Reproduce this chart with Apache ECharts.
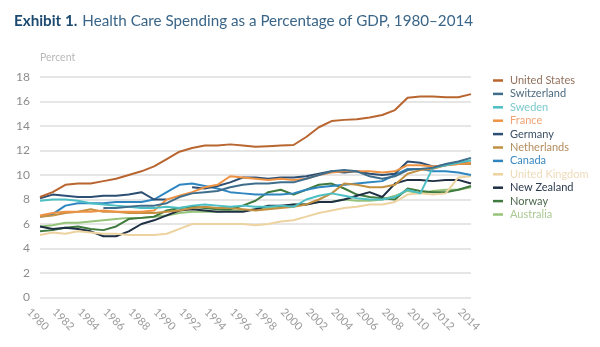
<!DOCTYPE html>
<html>
<head>
<meta charset="utf-8">
<script src="https://cdn.jsdelivr.net/npm/echarts@6/dist/echarts.min.js"></script>
<style>
  html, body { margin: 0; padding: 0; background: #fff; }
  #chart { width: 600px; height: 347px; }
</style>
</head>
<body>
<div id="chart"></div>
<script>
// Health care spending as a percentage of GDP, 1980–2014
const years = ['1980','1981','1982','1983','1984','1985','1986','1987','1988','1989',
               '1990','1991','1992','1993','1994','1995','1996','1997','1998','1999',
               '2000','2001','2002','2003','2004','2005','2006','2007','2008','2009',
               '2010','2011','2012','2013','2014'];

const yTicks = [0, 2, 4, 6, 8, 10, 12, 14, 16, 18];

const countries = ['United States','Switzerland','Sweden','France','Germany','Netherlands',
                   'Canada','United Kingdom','New Zealand','Norway','Australia'];

const unitedStates = [8.2,8.6,9.2,9.3,9.3,9.5,9.7,10.0,10.3,10.7,
                      11.3,11.9,12.2,12.4,12.4,12.5,12.4,12.3,12.35,12.4,
                      12.45,13.1,13.9,14.4,14.5,14.55,14.7,14.9,15.3,16.3,
                      16.4,16.4,16.35,16.35,16.6];
const switzerland  = [null,null,null,null,null,7.3,7.3,7.4,7.5,7.5,
                      7.7,8.2,8.5,8.6,8.7,9.0,9.2,9.3,9.3,9.4,
                      9.4,9.7,10.0,10.3,10.4,10.3,9.9,9.7,9.9,10.4,
                      10.5,10.6,10.9,11.1,11.4];
const sweden       = [7.9,8.0,8.0,7.9,7.7,7.6,7.5,7.4,7.3,7.3,
                      7.4,7.3,7.5,7.6,7.5,7.4,7.5,7.4,7.4,7.5,
                      7.4,8.0,8.3,8.5,8.3,8.1,8.0,8.0,8.2,8.8,
                      8.5,10.6,10.8,11.0,11.2];
const france       = [6.7,6.9,7.0,7.0,7.0,7.1,7.0,7.0,7.0,7.1,
                      8.0,8.3,8.6,9.0,9.2,9.9,9.8,9.7,9.6,9.7,
                      9.6,9.7,10.0,10.2,10.3,10.3,10.3,10.2,10.3,10.8,
                      10.8,10.7,10.8,10.9,11.0];
const germany      = [8.1,8.4,8.3,8.2,8.2,8.3,8.3,8.4,8.6,8.0,
                      8.0,null,9.0,8.9,9.1,9.4,9.8,9.8,9.7,9.8,
                      9.8,9.9,10.1,10.3,10.2,10.3,10.1,10.0,10.1,11.1,
                      11.0,10.7,10.8,11.0,11.0];
const netherlands  = [6.6,6.7,6.9,7.0,7.2,7.0,7.0,6.9,6.9,6.9,
                      7.0,7.1,7.3,7.4,7.3,7.3,7.2,7.1,7.2,7.3,
                      7.4,7.6,8.0,8.5,9.3,9.2,9.0,9.0,9.2,10.1,
                      10.4,10.5,10.8,10.9,10.9];
const canada       = [6.6,6.8,7.5,7.7,7.7,7.7,7.8,7.8,7.8,8.0,
                      8.6,9.2,9.3,9.1,8.9,8.6,8.5,8.4,8.4,8.4,
                      8.5,8.8,9.0,9.1,9.2,9.3,9.4,9.5,10.0,10.5,
                      10.5,10.3,10.3,10.2,10.0];
const unitedKingdom= [5.1,5.3,5.2,5.4,5.3,5.2,5.2,5.1,5.1,5.1,
                      5.2,5.6,6.0,6.0,6.0,6.0,6.0,5.9,6.0,6.2,
                      6.3,6.6,6.9,7.1,7.3,7.4,7.6,7.6,7.8,8.4,
                      8.5,8.4,8.5,9.8,9.9];
const newZealand   = [5.8,5.6,5.7,5.6,5.4,5.0,5.0,5.4,6.0,6.3,
                      6.7,7.1,7.2,7.1,7.0,7.0,7.0,7.2,7.5,7.5,
                      7.6,7.6,7.8,7.8,8.0,8.3,8.6,8.2,9.3,9.6,
                      9.6,9.5,9.6,9.6,9.3];
const norway       = [5.4,5.5,5.7,5.8,5.6,5.5,5.8,6.4,6.5,6.6,
                      7.1,7.3,7.4,7.3,7.2,7.2,7.5,7.9,8.6,8.8,
                      8.4,8.8,9.2,9.3,8.9,8.4,8.2,8.1,8.0,8.9,
                      8.7,8.6,8.6,8.8,9.1];
const australia    = [5.8,5.9,6.1,6.1,6.2,6.3,6.4,6.5,6.5,6.6,
                      6.7,6.9,7.0,7.0,7.0,7.1,7.1,7.2,7.3,7.4,
                      7.6,7.6,7.8,7.8,8.0,7.9,7.9,8.0,8.3,8.7,
                      8.5,8.7,8.8,8.8,9.0];

const seriesValues = [unitedStates, switzerland, sweden, france, germany, netherlands,
                      canada, unitedKingdom, newZealand, norway, australia];

const lineColors = ['#b8652f','#3f6e8c','#4cbfc4','#ee9244','#2d4f73','#c29040',
                    '#2e86c1','#ecd3a0','#1f2f44','#3f7a3e','#96c37a'];
const labelColors = ['#94705c','#4d6b80','#7ccacd','#f0a374','#3b4f66','#b38d5e',
                     '#3a88c0','#eedbb9','#2b3a50','#4d684c','#a9c993'];

const FONT = 'Lato, "Open Sans", sans-serif';

const chart = echarts.init(document.getElementById('chart'), null, { renderer: 'canvas' });

chart.setOption({
  animation: false,
  backgroundColor: '#ffffff',
  title: [
    {
      left: 9, top: 7,
      text: '{b|Exhibit 1.} {r|Health Care Spending as a Percentage of GDP, 1980–2014}',
      textStyle: {
        rich: {
          b: { fontFamily: FONT, fontWeight: 'bold', fontSize: 15.2, color: '#1d4a70' },
          r: { fontFamily: FONT, fontWeight: 'normal', fontSize: 15.2, color: '#3a6588' }
        }
      }
    },
    {
      left: 35, top: 47,
      text: 'Percent',
      textStyle: { fontFamily: FONT, fontWeight: 'normal', fontSize: 10.5, color: '#b8b8b8' }
    }
  ],
  legend: {
    orient: 'vertical',
    left: 488, top: 69,
    itemWidth: 10, itemHeight: 2.5,
    itemGap: 0.4,
    icon: 'rect',
    data: countries.map((name, i) => ({
      name,
      textStyle: { color: labelColors[i] }
    })),
    textStyle: { fontFamily: FONT, fontSize: 11, lineHeight: 13, padding: [0, 0, 0, 2] }
  },
  grid: { left: 40, right: 129, top: 77, bottom: 49.5, containLabel: false },
  xAxis: {
    type: 'category',
    data: years,
    boundaryGap: false,
    axisLine: { show: false },
    axisTick: { show: false },
    axisLabel: {
      interval: 1,
      rotate: -45,
      align: 'center',
      verticalAlign: 'middle',
      margin: 24,
      padding: [0, 6, 0, 0],
      fontFamily: FONT,
      fontSize: 11,
      color: '#9a9a9a'
    },
    splitLine: { show: false }
  },
  yAxis: {
    type: 'value',
    min: yTicks[0],
    max: yTicks[yTicks.length - 1],
    interval: yTicks[1] - yTicks[0],
    axisLine: { show: false },
    axisTick: { show: false },
    axisLabel: { margin: 10, fontFamily: FONT, fontSize: 12, color: '#8c8c8c' },
    splitLine: { lineStyle: { color: '#dedede', width: 1.5 } }
  },
  series: countries.map((name, i) => ({
    name,
    type: 'line',
    data: seriesValues[i],
    symbol: 'none',
    connectNulls: false,
    lineStyle: { width: 2, color: lineColors[i] },
    itemStyle: { color: lineColors[i] },
    z: 20 - i
  }))
});
</script>
</body>
</html>
